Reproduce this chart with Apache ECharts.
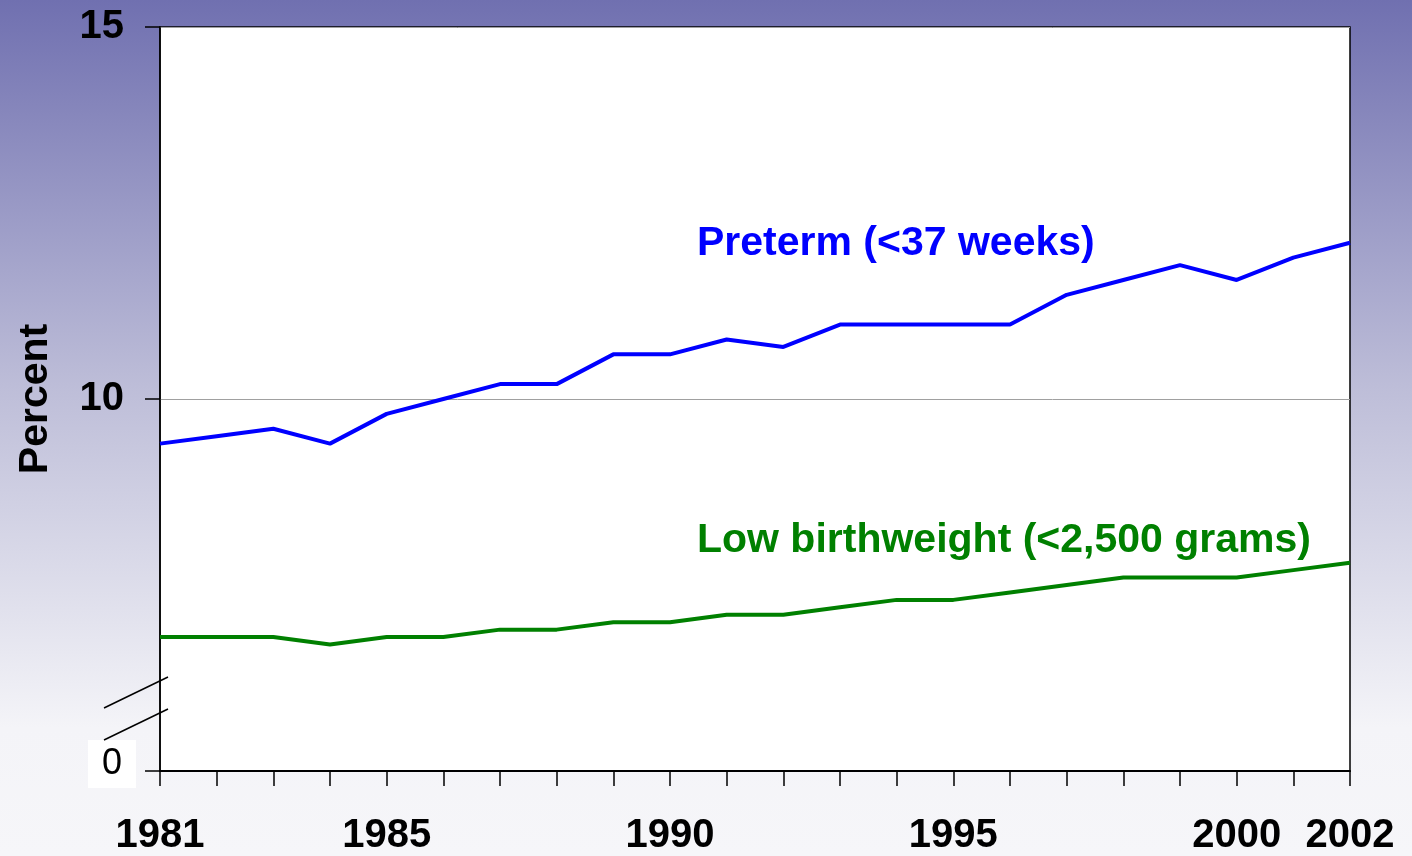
<!DOCTYPE html>
<html>
<head>
<meta charset="utf-8">
<script src="https://cdn.jsdelivr.net/npm/echarts@6/dist/echarts.min.js"></script>
<style>
html, body { margin: 0; padding: 0; }
#container {
	width: 1412px;
	height: 856px;
	background: linear-gradient(to bottom, #7070b0 0%, #bdbdd8 45%, #f4f4f8 85%, #f6f6f9 100%);
}
</style>
</head>
<body>
<div id="container"></div>
<script>
var dom = document.getElementById("container");
var myChart = echarts.init(dom);

var years = ['1981', '1982', '1983', '1984', '1985', '1986', '1987', '1988', '1989', '1990', '1991',
	'1992', '1993', '1994', '1995', '1996', '1997', '1998', '1999', '2000', '2001', '2002'];
var preterm = [9.4, 9.5, 9.6, 9.4, 9.8, 10.0, 10.2, 10.2, 10.6, 10.6, 10.8,
	10.7, 11.0, 11.0, 11.0, 11.0, 11.4, 11.6, 11.8, 11.6, 11.9, 12.1];
var lowBirthweight = [6.8, 6.8, 6.8, 6.7, 6.8, 6.8, 6.9, 6.9, 7.0, 7.0, 7.1,
	7.1, 7.2, 7.3, 7.3, 7.4, 7.5, 7.6, 7.6, 7.6, 7.7, 7.8];
var shownYears = ['1981', '1985', '1990', '1995', '2000', '2002'];
// axis is broken: the bottom (5) is labelled 0
var yTickLabels = { 15: '{big|15}', 10: '{big|10}', 5: '{zero|0}\n{gap|}' };

var labelFont = 'Liberation Sans, Arial, sans-serif';

var option = {
	animation: false,
	backgroundColor: 'transparent',
	grid: {
		left: 160,
		right: 62,
		top: 27,
		bottom: 83,
		show: true,
		backgroundColor: '#ffffff',
		borderColor: '#000000',
		borderWidth: 1.5
	},
	xAxis: {
		type: 'category',
		data: years,
		boundaryGap: false,
		axisLine: { lineStyle: { color: '#000', width: 2 } },
		axisTick: {
			show: true,
			interval: 0,
			inside: false,
			length: 15,
			lineStyle: { color: '#000', width: 1.5 }
		},
		axisLabel: {
			interval: function (index, value) {
				return shownYears.indexOf(value) >= 0;
			},
			margin: 45,
			fontFamily: labelFont,
			fontWeight: 'bold',
			fontSize: 40,
			color: '#000'
		},
		splitLine: { show: false }
	},
	yAxis: {
		type: 'value',
		min: 5,
		max: 15,
		interval: 5,
		name: 'Percent',
		nameLocation: 'middle',
		nameGap: 104,
		nameRotate: 90,
		nameTextStyle: {
			fontFamily: labelFont,
			fontWeight: 'bold',
			fontSize: 41,
			color: '#000'
		},
		axisLine: { show: true, lineStyle: { color: '#000', width: 1.5 } },
		axisTick: { show: true, length: 15, lineStyle: { color: '#000', width: 1.5 } },
		axisLabel: {
			margin: 24,
			color: '#000',
			formatter: function (v) { return yTickLabels[v] || ''; },
			rich: {
				big: {
					fontFamily: labelFont,
					fontWeight: 'bold',
					fontSize: 40,
					color: '#000',
					padding: [0, 12, 0, 0]
				},
				zero: {
					fontFamily: labelFont,
					fontWeight: 'normal',
					fontSize: 36,
					color: '#000',
					backgroundColor: '#ffffff',
					height: 48,
					width: 48,
					align: 'center'
				},
				gap: {
					height: 14,
					fontSize: 10
				}
			}
		},
		splitLine: { show: true, lineStyle: { color: '#a0a0a0', width: 1 } }
	},
	graphic: [
		{
			type: 'line',
			shape: { x1: 104, y1: 708, x2: 168, y2: 677 },
			style: { stroke: '#000', lineWidth: 1.5 },
			z: 100
		},
		{
			type: 'line',
			shape: { x1: 104, y1: 740, x2: 168, y2: 709 },
			style: { stroke: '#000', lineWidth: 1.5 },
			z: 100
		},
		{
			type: 'text',
			left: 697,
			top: 223,
			style: {
				text: 'Preterm (<37 weeks)',
				font: 'bold 41px ' + labelFont,
				fill: '#0000ff'
			},
			z: 100
		},
		{
			type: 'text',
			left: 697,
			top: 520,
			style: {
				text: 'Low birthweight (<2,500 grams)',
				font: 'bold 41px ' + labelFont,
				fill: '#008000'
			},
			z: 100
		}
	],
	series: [
		{
			name: 'Preterm (<37 weeks)',
			type: 'line',
			data: preterm,
			symbol: 'none',
			lineStyle: { color: '#0000ff', width: 4 }
		},
		{
			name: 'Low birthweight (<2,500 grams)',
			type: 'line',
			data: lowBirthweight,
			symbol: 'none',
			lineStyle: { color: '#008000', width: 4 }
		}
	]
};

myChart.setOption(option);
</script>
</body>
</html>
